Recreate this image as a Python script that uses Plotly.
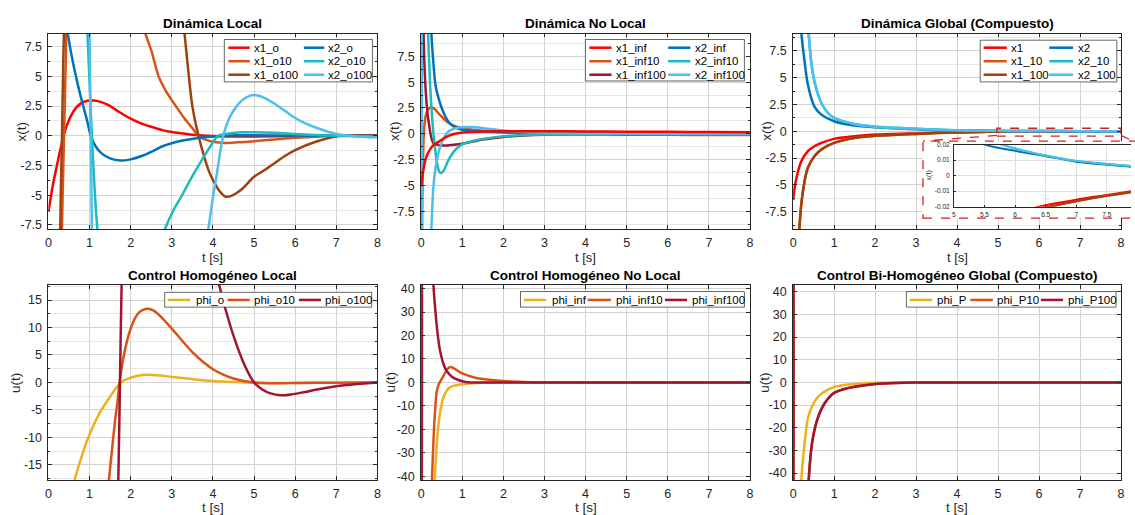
import plotly.graph_objects as go

W, H = 1135, 515
FONT = "Liberation Sans, Arial, Helvetica, sans-serif"

# ---------------- colours ----------------
RED = "#FF0000"
BLUE = "#0072BD"
ORANGE = "#D95319"
TEAL = "#1ABCB8"
LBLUE = "#4DBEEE"
BROWN = "#A0400F"
CRIMSON = "#A2142F"
YELLOW = "#EDB120"

# ---------------- ticks ----------------
x_ticks = [0, 1, 2, 3, 4, 5, 6, 7, 8]
x_ticklabels = ["0", "1", "2", "3", "4", "5", "6", "7", "8"]
x_state_ticks = [-7.5, -5, -2.5, 0, 2.5, 5, 7.5]
x_state_ticklabels = ["-7.5", "-5", "-2.5", "0", "2.5", "5", "7.5"]
u_local_ticks = [-15, -10, -5, 0, 5, 10, 15]
u_local_ticklabels = ["-15", "-10", "-5", "0", "5", "10", "15"]
u_big_ticks = [-40, -30, -20, -10, 0, 10, 20, 30, 40]
u_big_ticklabels = ["-40", "-30", "-20", "-10", "0", "10", "20", "30", "40"]
inset_xticks = [5, 5.5, 6, 6.5, 7, 7.5]
inset_xticklabels = ["5", "5.5", "6", "6.5", "7", "7.5"]
inset_yticks = [-0.02, -0.01, 0, 0.01, 0.02]
inset_yticklabels = ["-0.02", "-0.01", "0", "0.01", "0.02"]

# ---------------- Panel 1: Dinámica Local ----------------
t_x1_o = [0, 0.1, 0.2, 0.3, 0.37, 0.45, 0.55, 0.67, 0.8, 0.95, 1.1, 1.25, 1.45, 1.7, 2.0, 2.25, 2.5, 2.75, 3.0, 3.5, 4.0, 4.5, 5.0, 6.0, 7.0, 8.0]
x1_o = [-6.4, -4.3, -2.6, -1.0, 0.0, 0.9, 1.7, 2.35, 2.75, 2.95, 2.97, 2.88, 2.6, 2.05, 1.45, 1.05, 0.76, 0.5, 0.32, 0.1, -0.02, -0.06, -0.05, -0.02, 0.0, 0.0]
t_x1_o10 = [0.0, 0.2, 0.3, 0.34, 0.38, 0.42, 0.46, 0.6, 1.0, 1.5, 2.0, 2.2, 2.36, 2.5, 2.68, 2.85, 3.0, 3.1, 3.3, 3.5, 3.65, 3.8, 4.0, 4.3, 4.6, 5.0, 5.5, 6.0, 6.5, 7.0, 8.0]
x1_o10 = [-40, -20, -12, -6, 0, 6, 12, 20, 28, 22, 13, 10.5, 8.6, 7.2, 5.0, 3.8, 3.0, 2.5, 1.5, 0.65, 0.0, -0.3, -0.5, -0.6, -0.55, -0.45, -0.3, -0.17, -0.07, 0.0, 0.05]
t_x1_o100 = [0.0, 0.2, 0.27, 0.3, 0.33, 0.36, 0.4, 0.5, 1.0, 2.0, 3.0, 3.2, 3.31, 3.4, 3.5, 3.65, 3.8, 3.9, 4.0, 4.15, 4.3, 4.45, 4.7, 5.0, 5.25, 5.5, 5.75, 6.0, 6.5, 7.0, 7.5, 8.0]
x1_o100 = [-60, -25, -12, -5, 0, 6, 12, 25, 45, 40, 20, 12, 8.6, 5.5, 2.5, 0.0, -1.9, -2.95, -3.7, -4.6, -5.1, -5.05, -4.5, -3.45, -2.9, -2.3, -1.7, -1.2, -0.5, -0.05, 0.05, 0.05]
t_x2_o = [0.3, 0.4, 0.47, 0.55, 0.65, 0.75, 0.83, 0.95, 1.03, 1.15, 1.3, 1.5, 1.75, 2.0, 2.25, 2.5, 2.76, 3.0, 3.3, 3.6, 4.0, 4.5, 5.0, 6.0, 7.0, 8.0]
x2_o = [12.5, 10.0, 8.6, 7.0, 5.3, 3.8, 2.72, 1.15, 0.0, -0.9, -1.5, -1.9, -2.08, -1.98, -1.72, -1.35, -0.9, -0.62, -0.38, -0.2, -0.05, 0.04, 0.05, 0.02, 0.0, -0.02]
t_x2_o10 = [0.6, 0.8, 0.9, 0.95, 1.0, 1.05, 1.1, 1.15, 1.19, 1.25, 1.4, 1.7, 2.0, 2.3, 2.6, 2.84, 3.05, 3.25, 3.45, 3.65, 3.9, 4.13, 4.4, 4.7, 5.0, 5.5, 6.0, 6.5, 7.0, 7.5, 8.0]
x2_o10 = [30, 20, 12, 8.6, 4.5, 0.5, -3.0, -6.0, -7.8, -10.5, -15, -19, -18, -14.5, -10.5, -7.8, -6.2, -5.0, -3.7, -2.5, -1.1, 0.0, 0.2, 0.3, 0.3, 0.25, 0.15, 0.07, 0.0, -0.03, -0.05]
t_x2_o100 = [0.6, 0.9, 0.97, 1.0, 1.03, 1.06, 1.1, 1.2, 1.5, 2.0, 2.5, 3.0, 3.5, 3.7, 3.89, 4.0, 4.1, 4.25, 4.4, 4.58, 4.75, 5.0, 5.25, 5.5, 5.75, 6.0, 6.25, 6.5, 7.0, 7.5, 8.0]
x2_o100 = [50, 30, 17, 8.6, 0.0, -8.6, -18, -35, -50, -55, -45, -30, -16, -11.5, -7.8, -5.2, -3.1, 0.0, 1.5, 2.5, 3.1, 3.43, 3.2, 2.7, 2.1, 1.5, 1.05, 0.7, 0.15, -0.05, -0.12]

# ---------------- Panel 2: Dinámica No Local ----------------
t_x1_inf = [0, 0.05, 0.1, 0.15, 0.22, 0.3, 0.43, 0.55, 0.67, 0.8, 1.0, 1.25, 1.5, 2.0, 3.0, 4.0, 5.0, 6.0, 7.0, 8.0]
x1_inf = [-5.1, -3.6, -2.6, -2.0, -1.5, -1.1, -0.75, -0.45, -0.2, -0.02, 0.12, 0.18, 0.22, 0.25, 0.25, 0.23, 0.21, 0.19, 0.17, 0.15]
t_x1_inf10 = [0.0, 0.02, 0.04, 0.06, 0.08, 0.1, 0.15, 0.2, 0.25, 0.33, 0.47, 0.58, 0.67, 0.83, 1.0, 1.25, 1.5, 2.0, 2.5, 3.0, 4.0, 5.0, 6.0, 7.0, 8.0]
x1_inf10 = [-30, -9.2, -4.0, -0.5, 0.8, 1.5, 2.2, 2.5, 2.57, 2.4, 1.78, 1.35, 1.05, 0.73, 0.55, 0.4, 0.3, 0.15, 0.06, 0.0, -0.05, -0.08, -0.1, -0.11, -0.12]
t_x1_inf100 = [0.0, 0.03, 0.06, 0.1, 0.15, 0.2, 0.25, 0.3, 0.4, 0.5, 0.6, 0.8, 1.0, 1.25, 1.5, 2.0, 2.5, 3.0, 4.0, 5.0, 6.0, 8.0]
x1_inf100 = [60, 25, 9.7, 5.0, 2.2, 0.7, -0.4, -0.9, -1.07, -1.12, -1.12, -1.05, -0.95, -0.75, -0.55, -0.3, -0.16, -0.08, -0.03, -0.01, 0.0, 0.0]
t_x2_inf = [0.1, 0.18, 0.25, 0.3, 0.35, 0.42, 0.51, 0.58, 0.67, 0.8, 1.0, 1.25, 1.5, 2.0, 2.5, 3.0, 4.0, 5.0, 6.0, 7.0, 8.0]
x2_inf = [40, 18, 9.7, 6.8, 4.7, 3.5, 2.4, 1.75, 1.15, 0.7, 0.4, 0.28, 0.22, 0.15, 0.12, 0.1, 0.08, 0.06, 0.05, 0.04, 0.03]
t_x2_inf10 = [0.0, 0.1, 0.15, 0.17, 0.2, 0.22, 0.26, 0.3, 0.33, 0.36, 0.4, 0.44, 0.48, 0.55, 0.67, 0.8, 1.0, 1.25, 1.5, 2.0, 2.5, 3.0, 4.0, 5.0, 8.0]
x2_inf10 = [60, 25, 12, 9.7, 6.5, 4.7, 2.0, 0.0, -1.1, -2.1, -3.1, -3.65, -3.8, -3.55, -2.5, -1.7, -1.0, -0.7, -0.5, -0.23, -0.12, -0.06, -0.02, 0.0, 0.0]
t_x2_inf100 = [0.0, 0.01, 0.02, 0.03, 0.05, 0.1, 0.18, 0.25, 0.3, 0.38, 0.5, 0.67, 0.85, 1.0, 1.23, 1.48, 2.0, 2.5, 3.0, 4.0, 5.0, 6.0, 8.0]
x2_inf100 = [40, 20, 0, -20, -40, -35, -18, -9.2, -5.1, -2.6, -0.86, 0.25, 0.55, 0.63, 0.66, 0.57, 0.32, 0.18, 0.1, 0.04, 0.02, 0.01, 0.0]

# ---------------- Panel 3: Dinámica Global (Compuesto) ----------------
t_x1 = [0, 0.065, 0.2, 0.36, 0.52, 0.69, 1.0, 1.49, 2.0, 2.78, 3.0, 3.5, 4.0, 4.5, 5.0, 5.5, 6.0, 6.5, 7.0, 7.5, 8.0]
x1 = [-6.4, -4.66, -2.8, -1.86, -1.4, -1.09, -0.71, -0.47, -0.31, -0.22, -0.2, -0.13, -0.09, -0.06, -0.04, -0.03, -0.024, -0.019, -0.0155, -0.0125, -0.0095]
t_x1_10 = [0.1, 0.15, 0.2, 0.28, 0.36, 0.52, 0.69, 1.0, 1.49, 2.0, 2.78, 3.0, 3.5, 4.0, 4.5, 5.0, 5.5, 6.0, 6.5, 7.0, 7.5, 8.0]
x1_10 = [-14, -9.3, -6.8, -4.66, -3.4, -2.33, -1.7, -1.09, -0.62, -0.43, -0.28, -0.25, -0.16, -0.11, -0.07, -0.047, -0.034, -0.026, -0.0205, -0.0165, -0.013, -0.01]
t_x1_100 = [0.1, 0.15, 0.2, 0.28, 0.36, 0.52, 0.69, 1.0, 1.49, 2.0, 2.78, 3.0, 3.5, 4.0, 4.5, 5.0, 5.5, 6.0, 6.5, 7.0, 7.5, 8.0]
x1_100 = [-14, -9.3, -6.8, -4.66, -3.4, -2.33, -1.7, -1.09, -0.62, -0.43, -0.28, -0.25, -0.16, -0.11, -0.07, -0.047, -0.034, -0.026, -0.0205, -0.0165, -0.013, -0.01]
t_x2 = [0.12, 0.2, 0.28, 0.36, 0.52, 0.69, 1.0, 1.49, 2.0, 2.78, 3.0, 3.5, 4.0, 4.5, 5.0, 5.5, 6.0, 6.5, 7.0, 7.5, 8.0]
x2 = [14, 9.2, 6.5, 4.35, 2.3, 1.55, 0.93, 0.53, 0.37, 0.22, 0.18, 0.11, 0.07, 0.045, 0.03, 0.02, 0.016, 0.0125, 0.009, 0.007, 0.0055]
t_x2_10 = [0.3, 0.38, 0.44, 0.52, 0.69, 0.85, 1.0, 1.49, 2.0, 2.78, 3.0, 3.5, 4.0, 4.5, 5.0, 5.5, 6.0, 6.5, 7.0, 7.5, 8.0]
x2_10 = [13, 9.1, 6.5, 4.65, 2.64, 1.7, 1.24, 0.68, 0.43, 0.28, 0.24, 0.15, 0.095, 0.058, 0.036, 0.024, 0.0175, 0.013, 0.0095, 0.0075, 0.0058]
t_x2_100 = [0.3, 0.38, 0.44, 0.52, 0.69, 0.85, 1.0, 1.49, 2.0, 2.78, 3.0, 3.5, 4.0, 4.5, 5.0, 5.5, 6.0, 6.5, 7.0, 7.5, 8.0]
x2_100 = [13, 9.1, 6.5, 4.65, 2.64, 1.7, 1.24, 0.68, 0.43, 0.28, 0.24, 0.15, 0.095, 0.058, 0.036, 0.024, 0.0175, 0.013, 0.0095, 0.0075, 0.0058]

# ---------------- Panel 4: Control Homogéneo Local ----------------
t_phi_o = [0.4, 0.5, 0.63, 0.83, 1.0, 1.25, 1.5, 1.76, 2.0, 2.2, 2.4, 2.7, 3.0, 3.5, 4.0, 4.5, 5.0, 5.5, 6.0, 7.0, 8.0]
phi_o = [-27, -22.5, -18, -13, -9.5, -5.5, -2.6, 0.0, 0.85, 1.25, 1.38, 1.25, 1.0, 0.6, 0.25, 0.05, -0.1, -0.12, -0.1, -0.05, 0.0]
t_phi_o10 = [1.3, 1.47, 1.55, 1.62, 1.68, 1.73, 1.8, 1.9, 2.0, 2.1, 2.2, 2.3, 2.42, 2.55, 2.7, 3.0, 3.25, 3.5, 3.75, 4.0, 4.25, 4.5, 4.75, 5.0, 5.5, 6.0, 7.0, 8.0]
phi_o10 = [-30, -17.8, -12, -7, -3.5, 0, 3.5, 7.2, 9.8, 11.6, 12.7, 13.2, 13.4, 13.1, 12.2, 9.8, 7.6, 5.5, 3.8, 2.4, 1.4, 0.7, 0.25, 0.0, -0.15, -0.12, -0.05, 0.0]
t_phi_o100 = [1.5, 1.65, 1.7, 1.74, 1.78, 1.85, 2.0, 2.5, 3.0, 3.5, 3.9, 4.05, 4.15, 4.3, 4.5, 4.75, 5.0, 5.2, 5.4, 5.65, 5.9, 6.2, 6.5, 7.0, 7.5, 8.0]
phi_o100 = [-60, -30, -17.8, 0, 17.8, 35, 60, 80, 70, 45, 27, 21, 17.8, 13.5, 8.5, 3.5, 0.0, -1.3, -2.0, -2.35, -2.2, -1.8, -1.35, -0.7, -0.3, 0.0]

# ---------------- Panel 5: Control Homogéneo No Local ----------------
t_phi_inf = [0.2, 0.33, 0.4, 0.47, 0.55, 0.67, 0.8, 1.0, 1.25, 1.5, 2.0, 3.0, 8.0]
phi_inf = [-90, -41.7, -22, -12, -6, -2.5, -1.4, -0.8, -0.35, -0.15, -0.03, 0.0, 0.0]
t_phi_inf10 = [0.2, 0.265, 0.3, 0.34, 0.38, 0.43, 0.47, 0.55, 0.63, 0.7, 0.8, 0.9, 1.0, 1.25, 1.5, 2.0, 2.5, 3.0, 4.0, 8.0]
phi_inf10 = [-90, -41.7, -25, -12, -4.0, -0.8, 0.5, 3.0, 5.5, 6.5, 6.0, 4.8, 3.8, 2.3, 1.4, 0.55, 0.2, 0.07, 0.0, 0.0]
t_phi_inf100 = [0.0, 0.02, 0.04, 0.1, 0.2, 0.3, 0.35, 0.4, 0.45, 0.5, 0.55, 0.6, 0.7, 0.8, 1.0, 1.2, 1.5, 2.0, 3.0, 8.0]
phi_inf100 = [-300, 0, 300, 250, 100, 41.7, 30, 21, 14.5, 10.5, 7.5, 5.5, 3.2, 1.8, 0.5, 0.0, -0.1, -0.05, 0.0, 0.0]

# ---------------- Panel 6: Control Bi-Homogéneo Global ----------------
t_phi_P = [0.1, 0.2, 0.28, 0.36, 0.44, 0.52, 0.6, 0.69, 0.85, 1.0, 1.25, 1.5, 2.0, 2.5, 3.0, 8.0]
phi_P = [-90, -43, -27, -15.7, -11.5, -8.6, -6.5, -5.0, -3.2, -2.1, -1.2, -0.7, -0.2, -0.06, 0.0, 0.0]
t_phi_P10 = [0.0, 0.01, 0.02, 0.1, 0.2, 0.3, 0.38, 0.46, 0.54, 0.62, 0.69, 0.77, 0.85, 1.0, 1.25, 1.5, 2.0, 2.5, 3.0, 4.0, 8.0]
phi_P10 = [300, 0, -300, -250, -150, -80, -43, -27, -19.5, -14.8, -11.8, -9.2, -7.2, -4.6, -2.9, -1.9, -0.7, -0.25, -0.08, 0.0, 0.0]
t_phi_P100 = [0.0, 0.01, 0.02, 0.1, 0.2, 0.3, 0.38, 0.46, 0.54, 0.62, 0.69, 0.77, 0.85, 1.0, 1.25, 1.5, 2.0, 2.5, 3.0, 4.0, 8.0]
phi_P100 = [300, 0, -300, -250, -150, -80, -43, -27, -19.5, -14.8, -11.8, -9.2, -7.2, -4.6, -2.9, -1.9, -0.7, -0.25, -0.08, 0.0, 0.0]


def px_x(v):
    return v / W


def px_y(v):
    return 1 - v / H


def dom_x(a, b):
    return [px_x(a), min(1.0, px_x(b))]


def dom_y(top, bottom):
    return [px_y(bottom), px_y(top)]


fig = go.Figure()


def add_line(t, y, color, ax, width=2.5):
    fig.add_trace(go.Scatter(
        x=t, y=y, mode="lines", showlegend=False, hoverinfo="skip",
        line=dict(color=color, width=width, shape="spline", smoothing=0.8),
        xaxis="x" + ax, yaxis="y" + ax))


# Panel 1
add_line(t_x1_o, x1_o, RED, "")
add_line(t_x1_o10, x1_o10, ORANGE, "")
add_line(t_x1_o100, x1_o100, BROWN, "")
add_line(t_x2_o, x2_o, BLUE, "")
add_line(t_x2_o10, x2_o10, TEAL, "")
add_line(t_x2_o100, x2_o100, LBLUE, "")
# Panel 2
add_line(t_x1_inf10, x1_inf10, ORANGE, "2")
add_line(t_x1_inf100, x1_inf100, CRIMSON, "2")
add_line(t_x2_inf, x2_inf, BLUE, "2")
add_line(t_x2_inf10, x2_inf10, TEAL, "2")
add_line(t_x2_inf100, x2_inf100, LBLUE, "2")
add_line(t_x1_inf, x1_inf, RED, "2")
# Panel 3
p3 = [(t_x1, x1, RED), (t_x1_10, x1_10, ORANGE), (t_x1_100, x1_100, BROWN),
      (t_x2, x2, BLUE), (t_x2_10, x2_10, TEAL), (t_x2_100, x2_100, LBLUE)]
for t, y, c in p3:
    add_line(t, y, c, "3")
# Panel 4
add_line(t_phi_o, phi_o, YELLOW, "4")
add_line(t_phi_o10, phi_o10, ORANGE, "4")
add_line(t_phi_o100, phi_o100, CRIMSON, "4")
# Panel 5
add_line(t_phi_inf, phi_inf, YELLOW, "5")
add_line(t_phi_inf10, phi_inf10, ORANGE, "5")
add_line(t_phi_inf100, phi_inf100, CRIMSON, "5")
# Panel 6
add_line(t_phi_P, phi_P, YELLOW, "6")
add_line(t_phi_P10, phi_P10, ORANGE, "6")
add_line(t_phi_P100, phi_P100, CRIMSON, "6")
# cover (white box behind inset)
fig.add_trace(go.Scatter(x=[None], y=[None], mode="lines", showlegend=False,
                         hoverinfo="skip", xaxis="x7", yaxis="y7"))
# inset
for t, y, c in p3:
    add_line(t, y, c, "8", width=2.0)

AX = "#262626"


def xaxis(domain, anchor, show_labels=True):
    return dict(domain=domain, anchor=anchor, range=[0, 8], tickmode="array",
                tickvals=x_ticks, ticktext=x_ticklabels if show_labels else [""] * 9,
                showline=True, linecolor=AX, linewidth=0.8, mirror="ticks",
                ticks="inside", ticklen=4, tickwidth=0.8, tickcolor=AX,
                showgrid=True, gridcolor="#d3d3d3", gridwidth=1, zeroline=False,
                tickfont=dict(family=FONT, size=12.5, color=AX), ticklabelstandoff=2,
                fixedrange=True)


def yaxis(domain, anchor, rng, vals, labels, minor_dt):
    d = dict(domain=domain, anchor=anchor, range=rng, tickmode="array",
             tickvals=vals, ticktext=labels,
             showline=True, linecolor=AX, linewidth=0.8, mirror="ticks",
             ticks="inside", ticklen=4, tickwidth=0.8, tickcolor=AX,
             showgrid=True, gridcolor="#d3d3d3", gridwidth=1, zeroline=False,
             tickfont=dict(family=FONT, size=12.5, color=AX), ticklabelstandoff=3,
             fixedrange=True)
    if minor_dt:
        d["minor"] = dict(tickmode="linear", tick0=0, dtick=minor_dt, showgrid=True,
                          gridcolor="#e8e8e8", gridwidth=1, ticks="inside", ticklen=2,
                          tickcolor=AX)
    return d


TOP = (30, 228)
BOT = (284.5, 482.7)
C1 = (45.7, 376.7)
C2 = (420.7, 751.7)
C3 = (795, 1125)

layout = dict(
    width=W, height=H, margin=dict(l=0, r=0, t=0, b=0),
    paper_bgcolor="white", plot_bgcolor="#fffffe", showlegend=False,
    font=dict(family=FONT, color=AX),
    xaxis=xaxis(dom_x(*C1), "y"), yaxis=yaxis(dom_y(*TOP), "x", [-7.83, 8.6], x_state_ticks, x_state_ticklabels, 1.25),
    xaxis2=xaxis(dom_x(*C2), "y2"), yaxis2=yaxis(dom_y(*TOP), "x2", [-9.2, 9.7], x_state_ticks, x_state_ticklabels, 1.25),
    xaxis3=xaxis(dom_x(*C3), "y3"), yaxis3=yaxis(dom_y(*TOP), "x3", [-9.1, 9.1], x_state_ticks, x_state_ticklabels, 1.25),
    xaxis4=xaxis(dom_x(*C1), "y4"), yaxis4=yaxis(dom_y(*BOT), "x4", [-17.8, 17.8], u_local_ticks, u_local_ticklabels, 2.5),
    xaxis5=xaxis(dom_x(*C2), "y5"), yaxis5=yaxis(dom_y(*BOT), "x5", [-41.7, 41.7], u_big_ticks, u_big_ticklabels, None),
    xaxis6=xaxis(dom_x(*C3), "y6"), yaxis6=yaxis(dom_y(*BOT), "x6", [-43.1, 43.1], u_big_ticks, u_big_ticklabels, None),
    xaxis7=dict(domain=dom_x(925.7, 1135), anchor="y7", visible=False, range=[0, 1], fixedrange=True),
    yaxis7=dict(domain=dom_y(139, 217), anchor="x7", visible=False, range=[0, 1], fixedrange=True),
    xaxis8=dict(domain=dom_x(956.7, 1135), anchor="y8", range=[5, 7.894], tickmode="array",
                tickvals=inset_xticks, ticktext=inset_xticklabels, showline=True, linecolor=AX,
                linewidth=0.7, mirror=True, ticks="inside", ticklen=2, tickcolor=AX,
                showgrid=True, gridcolor="#dedede", zeroline=False,
                tickfont=dict(family=FONT, size=6.5, color=AX), ticklabelstandoff=2, fixedrange=True),
    yaxis8=dict(domain=dom_y(142.5, 205.5), anchor="x8", range=[-0.02, 0.02], tickmode="array",
                tickvals=inset_yticks, ticktext=inset_yticklabels, showline=True, linecolor=AX,
                linewidth=0.7, mirror=False, ticks="inside", ticklen=2, tickcolor=AX,
                showgrid=True, gridcolor="#dedede", zeroline=False,
                tickfont=dict(family=FONT, size=6.5, color=AX), ticklabelstandoff=2, fixedrange=True),
)
fig.update_layout(**layout)

annotations = []
shapes = []


def text(x, y, s, size=12, bold=False, angle=0, xanchor="center", color="#000000"):
    annotations.append(dict(
        x=px_x(x), y=px_y(y), xref="paper", yref="paper", text=("<b>%s</b>" % s) if bold else s,
        showarrow=False, xanchor=xanchor, yanchor="middle", textangle=angle,
        font=dict(family=FONT, size=size, color=color)))


# titles
for (cx, cy, s) in [(211.2, 20, "Dinámica Local"), (586.2, 20, "Dinámica No Local"),
                    (960, 20, "Dinámica Global (Compuesto)"),
                    (211.2, 275, "Control Homogéneo Local"), (586.2, 275, "Control Homogéneo No Local"),
                    (960, 275, "Control Bi-Homogéneo Global (Compuesto)")]:
    text(cx, cy, s, size=13.5, bold=True)
# axis labels
for cx in (211.2, 586.2, 960):
    text(cx, 257, "t [s]", size=13, color="#262626")
    text(cx, 510, "t [s]", size=13.5, color="#262626")
for cx in (18.3, 393.3, 768.3):
    text(cx, 129, "x(t)", size=13.5, angle=-90, color="#262626")
for cx in (13.3, 390, 766.7):
    text(cx, 384, "u(t)", size=13.5, angle=-90, color="#262626")
text(931.5, 174, "x(t)", size=7, angle=-90, color="#262626")


def legend(box, entries):
    x0, x1, y0, y1 = box
    shapes.append(dict(type="rect", xref="paper", yref="paper", layer="above",
                       x0=px_x(x0), x1=px_x(x1), y0=px_y(y1), y1=px_y(y0),
                       line=dict(color=AX, width=0.7), fillcolor="white"))
    for (name, color, lx0, lx1, tx, ty) in entries:
        shapes.append(dict(type="line", xref="paper", yref="paper", layer="above",
                           x0=px_x(lx0), x1=px_x(lx1), y0=px_y(ty), y1=px_y(ty),
                           line=dict(color=color, width=2.5)))
        text(tx, ty, name, size=11.5, xanchor="left", color="#000000")


R1, R2, R3 = 44.3, 58, 71.7
legend((222.7, 371.7, 36, 79), [
    ("x1_o", RED, 226.7, 248.3, 250.7, R1), ("x1_o10", ORANGE, 226.7, 248.3, 250.7, R2),
    ("x1_o100", BROWN, 226.7, 248.3, 250.7, R3),
    ("x2_o", BLUE, 302.7, 323.3, 325, R1), ("x2_o10", TEAL, 302.7, 323.3, 325, R2),
    ("x2_o100", LBLUE, 302.7, 323.3, 325, R3)])
legend((586, 746, 36, 78), [
    ("x1_inf", RED, 590, 612.3, 615, R1), ("x1_inf10", ORANGE, 590, 612.3, 615, R2),
    ("x1_inf100", CRIMSON, 590, 612.3, 615, R3),
    ("x2_inf", BLUE, 669.3, 691.7, 694.3, R1), ("x2_inf10", TEAL, 669.3, 691.7, 694.3, R2),
    ("x2_inf100", LBLUE, 669.3, 691.7, 694.3, R3)])
legend((983.3, 1120.7, 36.7, 79), [
    ("x1", RED, 986.7, 1010, 1012.3, R1), ("x1_10", ORANGE, 986.7, 1010, 1012.3, R2),
    ("x1_100", BROWN, 986.7, 1010, 1012.3, R3),
    ("x2", BLUE, 1052.7, 1076.7, 1080, R1), ("x2_10", TEAL, 1052.7, 1076.7, 1080, R2),
    ("x2_100", LBLUE, 1052.7, 1076.7, 1080, R3)])
legend((162.7, 371, 292.3, 307.3), [
    ("phi_o", YELLOW, 165.7, 188.3, 191.7, 300), ("phi_o10", ORANGE, 226, 248.3, 250.7, 300),
    ("phi_o100", CRIMSON, 297.7, 320, 321.7, 300)])
legend((520.7, 746, 291.5, 307.3), [
    ("phi_inf", YELLOW, 524, 546.7, 550, 300), ("phi_inf10", ORANGE, 588.3, 611.7, 614.3, 300),
    ("phi_inf100", CRIMSON, 666, 688.3, 691.7, 300)])
legend((909, 1120, 291.5, 307.3), [
    ("phi_P", YELLOW, 912.3, 935, 937.7, 300), ("phi_P10", ORANGE, 973.3, 996, 998.3, 300),
    ("phi_P100", CRIMSON, 1044.3, 1066.7, 1070, 300)])

# zoom indicator (inset)
DR = "#D42020"
shapes.append(dict(type="rect", xref="x3", yref="y3", layer="above", x0=4.97, x1=8.0,
                   y0=-0.45, y1=0.28, line=dict(color=DR, width=1.3, dash="dash")))
shapes.append(dict(type="rect", xref="paper", yref="paper", layer="above",
                   x0=px_x(925.7), x1=px_x(1140), y0=px_y(217), y1=px_y(139),
                   line=dict(color=DR, width=1.3, dash="dash")))
shapes.append(dict(type="line", xref="paper", yref="paper", layer="above",
                   x0=px_x(1000), y0=px_y(133.2), x1=px_x(925.7), y1=px_y(139),
                   line=dict(color=DR, width=1.3, dash="dash")))
shapes.append(dict(type="line", xref="paper", yref="paper", layer="above",
                   x0=px_x(1125), y0=px_y(133.2), x1=px_x(1137), y1=px_y(139),
                   line=dict(color=DR, width=1.3, dash="dash")))

fig.update_layout(annotations=annotations, shapes=shapes)
fig.write_html("out.html")
